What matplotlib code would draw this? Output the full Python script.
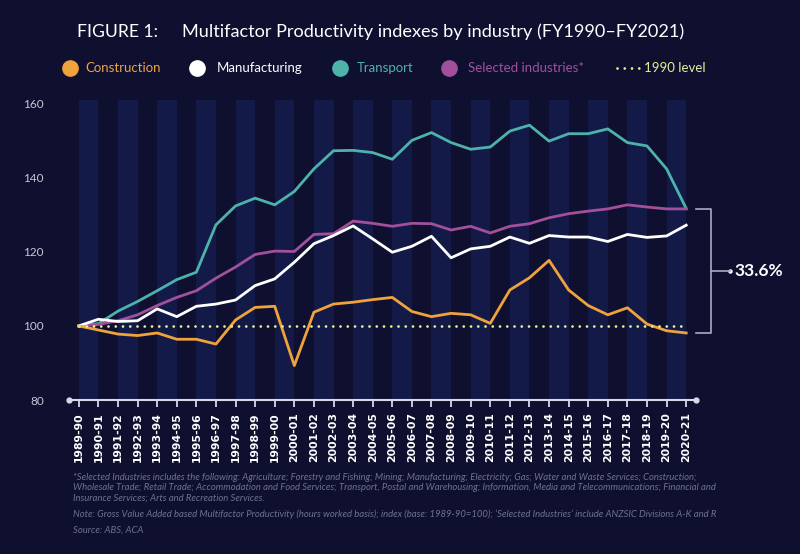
import numpy as np
import matplotlib
matplotlib.use("Agg")
import matplotlib.pyplot as plt
from matplotlib.lines import Line2D

# ---------------- data ----------------
years = ["1989-90", "1990-91", "1991-92", "1992-93", "1993-94", "1994-95",
         "1995-96", "1996-97", "1997-98", "1998-99", "1999-00", "2000-01",
         "2001-02", "2002-03", "2003-04", "2004-05", "2005-06", "2006-07",
         "2007-08", "2008-09", "2009-10", "2010-11", "2011-12", "2012-13",
         "2013-14", "2014-15", "2015-16", "2016-17", "2017-18", "2018-19",
         "2019-20", "2020-21"]

construction = [100, 98.9, 97.8, 97.4, 98.1, 96.4, 96.4, 95.1, 101.6, 105.0,
                105.3, 89.3, 103.7, 105.9, 106.4, 107.1, 107.7, 103.9, 102.5,
                103.4, 103.0, 100.7, 109.7, 113.0, 117.7, 109.7, 105.5, 103.0,
                104.9, 100.5, 98.7, 98.1]
manufacturing = [100, 101.8, 101.2, 101.4, 104.6, 102.5, 105.3, 105.9, 107.0,
                 110.9, 112.7, 117.2, 122.2, 124.4, 127.0, 123.5, 119.9, 121.5,
                 124.2, 118.4, 120.8, 121.5, 124.0, 122.3, 124.4, 124.0, 124.0,
                 122.8, 124.7, 123.9, 124.3, 127.2]
transport = [100, 100.6, 104.0, 106.6, 109.5, 112.5, 114.5, 127.3, 132.4, 134.5,
             132.7, 136.3, 142.4, 147.3, 147.4, 146.8, 145.0, 150.1, 152.2,
             149.5, 147.7, 148.3, 152.6, 154.2, 149.9, 151.9, 151.9, 153.2,
             149.5, 148.6, 142.4, 131.7]
selected = [100, 100.4, 101.4, 103.0, 105.5, 107.7, 109.5, 112.9, 115.9, 119.3,
            120.2, 120.1, 124.7, 124.9, 128.3, 127.7, 126.9, 127.7, 127.6,
            125.9, 126.9, 125.1, 126.9, 127.6, 129.2, 130.3, 131.0, 131.6,
            132.7, 132.1, 131.6, 131.6]
base_level = 100
gap_label = "33.6%"

yticks = [80, 100, 120, 140, 160]

# ---------------- colours ----------------
bg = "#0f1030"
band = "#141a48"
c_con = "#f0a23b"
c_man = "#ffffff"
c_tra = "#4db3aa"
c_sel = "#a2509c"
c_lvl = "#e3f09a"
c_foot = "#6e7191"

plt.rcParams["font.family"] = ["Lato", "DejaVu Sans"]

fig = plt.figure(figsize=(8, 5.54), dpi=100, facecolor=bg)
ax = fig.add_axes([69 / 800, 1 - 400 / 554, (696 - 69) / 800, 300 / 554])
ax.set_facecolor(bg)

x = np.arange(len(years))

# alternating column bands
for i in range(0, len(years) - 1, 2):
    ax.axvspan(x[i], x[i + 1], color=band, lw=0, zorder=0)

ax.plot(x, transport, color=c_tra, lw=2, zorder=3)
ax.plot(x, selected, color=c_sel, lw=2, zorder=3)
ax.plot(x, manufacturing, color=c_man, lw=2, zorder=4)
ax.plot(x, construction, color=c_con, lw=2, zorder=4)
ax.plot(x, [base_level] * len(x), color=c_lvl, lw=2,
        linestyle=(0, (0.01, 2.6)), dash_capstyle="round", zorder=5)

ax.set_xlim(-0.5, len(years) - 0.5)
ax.set_ylim(80, 161)

for s in ["top", "right", "left"]:
    ax.spines[s].set_visible(False)
ax.spines["bottom"].set_color("#d8d9e6")
ax.spines["bottom"].set_linewidth(1.5)
ax.plot([-0.5, len(years) - 0.5], [80, 80], "o", color="#d8d9e6", ms=3.5,
        clip_on=False, zorder=6)

ax.set_yticks(yticks)
ax.set_yticklabels([str(v) for v in yticks])
ax.tick_params(axis="y", length=0, pad=18, labelcolor="#c5c7d6", labelsize=8.5)
ax.set_xticks(x)
ax.set_xticklabels(years, rotation=90, fontweight="bold", fontsize=7.8,
                   family="DejaVu Sans")
ax.tick_params(axis="x", direction="out", length=5, width=1.3, color="#d8d9e6",
               labelcolor="white", pad=4)

# bracket showing the spread
xb0 = len(years) - 0.5
xb1 = xb0 + 0.78
ytop = transport[-1]
ybot = construction[-1]
ymid = (ytop + ybot) / 2
kw = dict(color="#a9abbf", lw=1.2, clip_on=False, zorder=6)
ax.plot([xb0, xb1, xb1, xb0], [ytop, ytop, ybot, ybot], **kw)
ax.plot([xb1, xb1 + 0.95], [ymid, ymid], **kw)
ax.plot([xb1 + 0.95], [ymid], "o", ms=2.2, color="white", clip_on=False)
ax.text(xb1 + 1.2, ymid, gap_label, color="white", fontsize=12.5,
        fontweight="bold", va="center", ha="left")

# title
fig.text(77 / 800, 1 - 32 / 554, "FIGURE 1:", color="white", fontsize=12.6,
         va="center", ha="left")
fig.text(182 / 800, 1 - 32 / 554,
         "Multifactor Productivity indexes by industry (FY1990\u2013FY2021)",
         color="white", fontsize=13.1, va="center", ha="left")

# legend
leg_y = 1 - 68 / 554
items = [(70, 85, "Construction", c_con), (197, 217, "Manufacturing", c_man),
         (340, 357, "Transport", c_tra), (449, 468, "Selected industries*", c_sel)]
for cx, tx, lab, col in items:
    fig.add_artist(Line2D([cx / 800], [leg_y], marker="o", ms=11, color=col,
                          lw=0))
    fig.text(tx / 800, leg_y, lab, color=col, fontsize=9.5,
             va="center", ha="left")
fig.add_artist(Line2D([617 / 800, 639 / 800], [leg_y, leg_y], color=c_lvl,
                      lw=2, linestyle=(0, (0.01, 2.6)), dash_capstyle="round"))
fig.text(644 / 800, leg_y, "1990 level", color=c_lvl, fontsize=9.5,
         va="center", ha="left")

# footnotes
foot = [
    (478, "*Selected Industries includes the following: Agriculture; Forestry and Fishing; Mining; Manufacturing; Electricity; Gas; Water and Waste Services; Construction;"),
    (488, "Wholesale Trade; Retail Trade; Accommodation and Food Services; Transport, Postal and Warehousing; Information, Media and Telecommunications; Financial and"),
    (498, "Insurance Services; Arts and Recreation Services."),
    (514, "Note: Gross Value Added based Multifactor Productivity (hours worked basis); index (base: 1989-90=100); \u2018Selected Industries\u2019 include ANZSIC Divisions A-K and R"),
    (530, "Source: ABS, ACA"),
]
for yy, t in foot:
    fig.text(73 / 800, 1 - yy / 554, t, color=c_foot, fontsize=6.85,
             style="italic", va="center", ha="left")

fig.savefig("out.png", dpi=100, facecolor=bg)
